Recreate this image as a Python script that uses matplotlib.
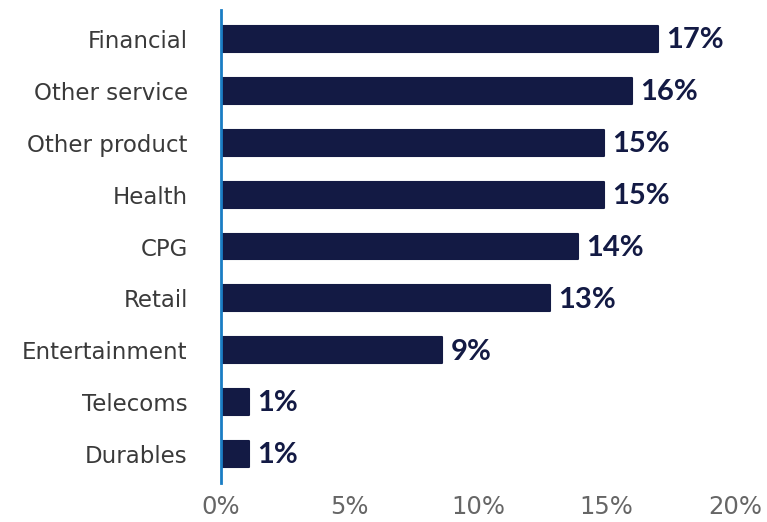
import matplotlib
matplotlib.use("Agg")
import matplotlib.pyplot as plt

categories = ["Financial", "Other service", "Other product", "Health", "CPG",
              "Retail", "Entertainment", "Telecoms", "Durables"]
shares = [17.0, 16.0, 14.9, 14.9, 13.9, 12.8, 8.6, 1.1, 1.1]
x_ticks = [0, 5, 10, 15, 20]

NAVY = "#131a44"
BLUE = "#1a7dc4"

plt.rcParams["font.family"] = ["DejaVu Sans"]

fig = plt.figure(figsize=(7.67, 5.22), dpi=100)
ax = fig.add_axes([221 / 767, 1 - 483 / 522, (735 - 221) / 767, (483 - 10) / 522])

pos = list(range(len(categories)))
bars = ax.barh(pos, shares, height=0.5, color=NAVY, edgecolor=NAVY,
               linewidth=1.5, joinstyle="round", zorder=2)

for y, v in zip(pos, shares):
    ax.annotate(f"{round(v)}%", xy=(v, y), xytext=(6, -1), textcoords="offset points",
                ha="left", va="center", fontsize=21, fontweight="bold", color=NAVY,
                family=["Lato", "DejaVu Sans"])

ax.set_xlim(0, 20)
ax.set_ylim(len(categories) - 0.44, -0.56)
ax.set_yticks(pos)
ax.set_yticklabels(categories, fontsize=16.5, color="#3a3a3a")
ax.set_xticks(x_ticks)
ax.set_xticklabels([f"{t}%" for t in x_ticks], fontsize=17.5, color="#666666")
ax.tick_params(axis="both", length=0)
ax.tick_params(axis="y", pad=24)
ax.tick_params(axis="x", pad=9)

for side in ["top", "right", "bottom"]:
    ax.spines[side].set_visible(False)
ax.spines["left"].set_color(BLUE)
ax.spines["left"].set_linewidth(2)
ax.spines["left"].set_zorder(3)

fig.savefig("out.png", dpi=100)
